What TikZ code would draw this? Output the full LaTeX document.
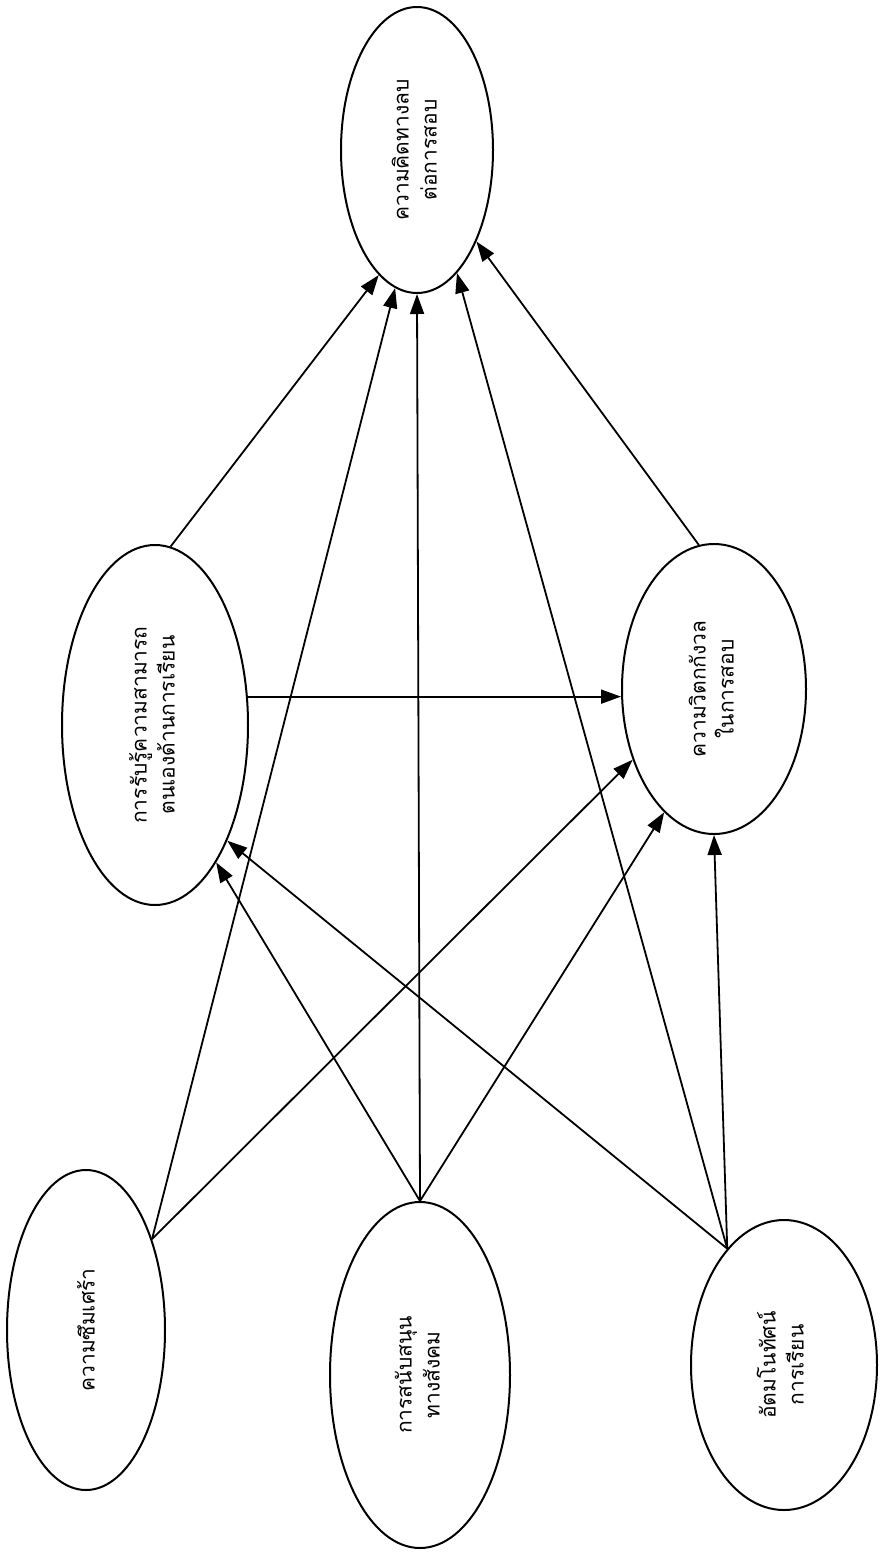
\documentclass[tikz,border=0pt]{standalone}
\usepackage{fontspec}
\usepackage{graphicx}
\newfontfamily\thaifont[Script=Thai]{Loma}
\usetikzlibrary{shapes.geometric,arrows.meta}
\newcommand\twolines[2]{\rotatebox{90}{\begin{tabular}{@{}c@{}}#1\\#2\end{tabular}}}
\newcommand\onelinerot[1]{\rotatebox{90}{#1}}
\begin{document}
\begin{tikzpicture}[x=1pt,y=-1pt,
  ell/.style={draw,ellipse,line width=2pt,inner sep=0pt,
    font=\thaifont\fontsize{21}{28}\selectfont},
  arr/.style={line width=1.8pt,-{Triangle[length=20pt,width=14pt]}}]
\useasboundingbox[fill=white] (0,0) rectangle (879,1556);

\node[ell,minimum width=152pt,minimum height=286pt] (top) at (417,150)
  {\twolines{ความคิดทางลบ}{ต่อการสอบ}};
\node[ell,minimum width=186pt,minimum height=360pt] (lm) at (155,725)
  {\twolines{การรับรู้ความสามารถ}{ตนเองด้านการเรียน}};
\node[ell,minimum width=184pt,minimum height=290pt] (rm) at (714,689)
  {\twolines{ความวิตกกังวล}{ในการสอบ}};
\node[ell,minimum width=158pt,minimum height=320pt] (bl) at (86,1330)
  {\onelinerot{ความซึมเศร้า}};
\node[ell,minimum width=180pt,minimum height=346pt] (bm) at (420,1375)
  {\twolines{การสนับสนุน}{ทางสังคม}};
\node[ell,minimum width=186pt,minimum height=290pt] (br) at (784,1365)
  {\twolines{อัตมโนทัศน์}{การเรียน}};

% to top
\draw[arr] (lm.85) -- (top.253);
\draw[arr] (bl.54) -- (top.261);
\draw[arr] (bm.north) -- (top.south);
\draw[arr] (br.116) -- (top.288);
\draw[arr] (rm.96) -- (top.303);
% lm -> rm
\draw[arr] (lm.17) -- (lm.17 -| rm.west);
% to lm
\draw[arr] (bm.north) -- (lm.294);
\draw[arr] (br.116) -- (lm.302);
% to rm
\draw[arr] (bl.54) -- (rm.221);
\draw[arr] (bm.north) -- (rm.248);
\draw[arr] (br.116) -- (rm.south);
\end{tikzpicture}
\end{document}
